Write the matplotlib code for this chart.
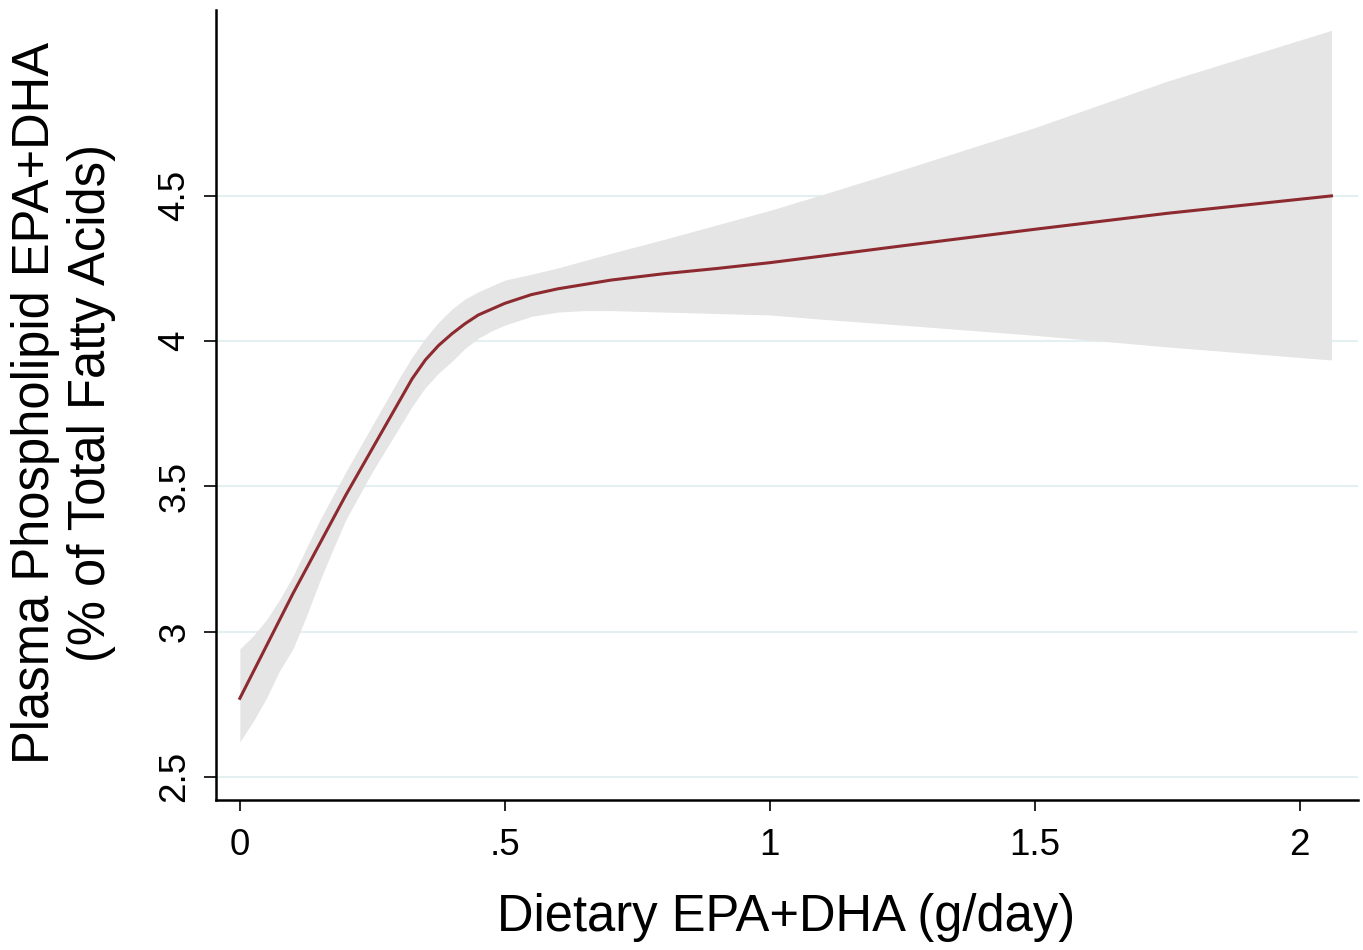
import matplotlib
matplotlib.use("Agg")
import matplotlib.pyplot as plt
from matplotlib import font_manager

# ---- data ----
x_vals = [0.0, 0.025, 0.05, 0.075, 0.10, 0.125, 0.15, 0.175, 0.20, 0.25, 0.30,
          0.325, 0.35, 0.375, 0.40, 0.425, 0.45, 0.475, 0.50, 0.55, 0.60,
          0.65, 0.70, 0.80, 0.90, 1.00, 1.10, 1.25, 1.50, 1.75, 2.06]
fit = [2.77, 2.86, 2.95, 3.04, 3.13, 3.215, 3.30, 3.385, 3.47, 3.63, 3.79,
       3.87, 3.935, 3.985, 4.025, 4.06, 4.09, 4.11, 4.13, 4.16, 4.18,
       4.195, 4.21, 4.232, 4.25, 4.27, 4.293, 4.328, 4.385, 4.44, 4.50]
upper = [2.94, 2.985, 3.04, 3.11, 3.19, 3.285, 3.38, 3.465, 3.55, 3.71, 3.87,
         3.945, 4.01, 4.065, 4.11, 4.145, 4.17, 4.19, 4.21, 4.23, 4.252,
         4.277, 4.302, 4.35, 4.40, 4.45, 4.505, 4.59, 4.735, 4.895, 5.07]
lower = [2.62, 2.69, 2.77, 2.865, 2.94, 3.05, 3.17, 3.28, 3.385, 3.55, 3.70,
         3.775, 3.84, 3.89, 3.93, 3.975, 4.01, 4.035, 4.055, 4.085, 4.10,
         4.105, 4.105, 4.10, 4.095, 4.09, 4.075, 4.055, 4.02, 3.98, 3.935]

x_ticks = [0, 0.5, 1, 1.5, 2]
x_ticklabels = ["0", ".5", "1", "1.5", "2"]
y_ticks = [2.5, 3, 3.5, 4, 4.5]
y_ticklabels = ["2.5", "3", "3.5", "4", "4.5"]
x_label = "Dietary EPA+DHA (g/day)"
y_label = "Plasma Phospholipid EPA+DHA\n(% of Total Fatty Acids)"

# ---- font ----
names = {f.name for f in font_manager.fontManager.ttflist}
if "Liberation Sans Narrow" in names:
    fam = "Liberation Sans Narrow"
    tick_fs, lab_fs = 30, 40
else:
    fam = "Liberation Sans"
    tick_fs, lab_fs = 26.5, 36.5
plt.rcParams["font.family"] = [fam, "DejaVu Sans"]

fig = plt.figure(figsize=(13.63, 9.50), dpi=100)
ax = fig.add_axes([216/1363, 150/950, (1358-216)/1363, (800-10)/950])

ax.fill_between(x_vals, lower, upper, color="#e5e5e5", linewidth=0, zorder=2)
ax.plot(x_vals, fit, color="#8c2a30", linewidth=2.2, zorder=3)

ax.set_xlim(-0.045, 2.11)
ax.set_ylim(2.42, 5.14)

ax.set_xticks(x_ticks)
ax.set_xticklabels(x_ticklabels, fontsize=tick_fs)
ax.set_yticks(y_ticks)
ax.set_yticklabels(y_ticklabels, fontsize=tick_fs, rotation=90, va="center")

ax.yaxis.grid(True, color="#e3eff1", linewidth=1.5, zorder=0)
ax.set_axisbelow(True)

for s in ["top", "right"]:
    ax.spines[s].set_visible(False)
for s in ["left", "bottom"]:
    ax.spines[s].set_linewidth(1.8)
    ax.spines[s].set_color("black")

ax.tick_params(axis="y", length=9, width=1.2, pad=8, direction="out")
ax.tick_params(axis="x", length=8, width=1.2, pad=12, direction="out")

ax.set_xlabel(x_label, fontsize=lab_fs)
ax.xaxis.set_label_coords(0.499, -0.118)
ax.set_ylabel(y_label, fontsize=lab_fs, linespacing=1.18, ha="center")
ax.yaxis.set_label_coords(-0.088, 0.503)

fig.savefig("out.png", dpi=100, facecolor="white")
